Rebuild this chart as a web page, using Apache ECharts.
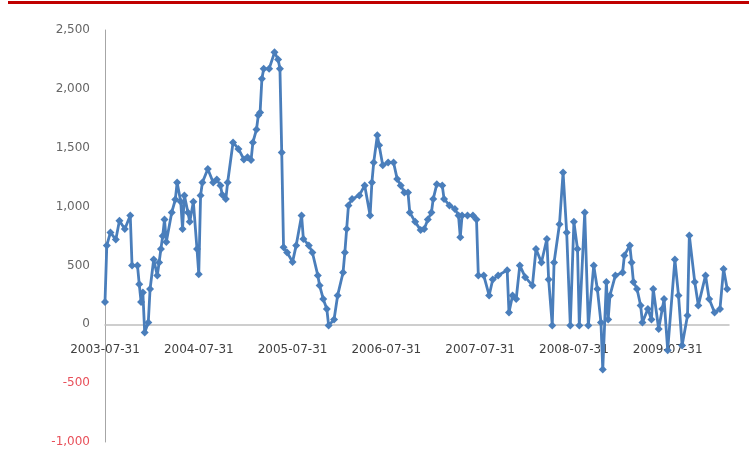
<!DOCTYPE html>
<html>
<head>
<meta charset="utf-8">
<script src="https://cdn.jsdelivr.net/npm/echarts@6/dist/echarts.min.js"></script>
<style>
  html, body { margin: 0; padding: 0; background: #fff; }
  #chart { width: 749px; height: 460px; }
</style>
</head>
<body>
<div id="chart"></div>
<script>
// weeks since 2003-07-31
const weeks = [0,1,3,6,8,11,14,15,18,19,20,21,22,24,25,27,29,30,31,32,33,34,37,39,40,42,43,44,46,47,49,51,52,53,54,57,60,62,64,65,67,68,71,74,77,79,81,82,84,85,86,87,88,91,94,96,97,98,99,101,104,106,109,110,113,115,118,119,121,123,124,127,129,132,133,134,135,137,141,144,147,148,149,151,152,154,157,160,162,164,166,168,169,172,175,177,179,181,182,184,187,188,191,194,196,197,198,201,204,206,207,210,213,215,218,223,224,226,228,230,233,237,239,242,245,246,248,249,252,254,256,258,260,262,263,266,268,271,273,275,276,278,279,280,283,287,288,291,292,293,295,297,298,301,303,304,307,309,310,312,316,318,320,323,324,327,329,333,335,338,341,343,345];
const values = [190,670,780,720,880,810,925,500,500,340,190,270,-70,15,300,550,415,525,640,750,890,700,950,1060,1205,1040,810,1095,950,870,1040,640,425,1095,1205,1320,1205,1230,1180,1100,1065,1205,1545,1490,1400,1420,1395,1545,1655,1775,1800,2085,2170,2170,2310,2250,2170,1460,655,610,530,670,925,725,670,610,415,330,215,130,-10,40,245,440,610,810,1010,1065,1095,1180,925,1205,1375,1605,1520,1350,1375,1375,1235,1180,1120,1120,950,870,800,810,890,950,1065,1190,1180,1065,1010,980,925,740,925,925,925,890,415,415,245,380,415,460,100,245,215,500,400,330,640,525,725,380,-10,525,850,1290,780,-10,870,640,-10,950,-10,500,300,15,-385,360,40,245,415,440,585,670,525,360,300,160,15,130,40,300,-40,130,215,-220,550,245,-180,75,755,360,160,415,215,100,130,470,300];
const tickLabels = ['2003-07-31','2004-07-31','2005-07-31','2006-07-31','2007-07-31','2008-07-31','2009-07-31'];
const yMin = -1000, yMax = 2500;

const seriesData = weeks.map((w, i) => [w, values[i]]);

// grid box
const gridTop = 30, gridBottom = 18;
const plotH = 460 - gridTop - gridBottom;
// lift the x axis up to y = 0
const zeroOffset = -plotH * (0 - yMin) / (yMax - yMin);

const myChart = echarts.init(document.getElementById('chart'));
myChart.setOption({
  animation: false,
  backgroundColor: '#fff',
  grid: { left: 105, right: 20, top: gridTop, bottom: gridBottom, outerBoundsMode: 'none' },
  graphic: [
    { type: 'rect', left: 8, top: 1, shape: { width: 741, height: 3 }, style: { fill: '#C00000' } }
  ],
  xAxis: {
    type: 'value',
    min: 0,
    max: 346,
    interval: 52,
    position: 'bottom',
    offset: zeroOffset,
    axisLine: { onZero: false, lineStyle: { color: '#BFBFBF', width: 1.5 } },
    axisTick: { show: false },
    splitLine: { show: false },
    axisLabel: {
      margin: 20,
      showMaxLabel: false,
      fontFamily: 'DejaVu Sans',
      fontSize: 12,
      color: '#404040',
      formatter: function (v) {
        return tickLabels[Math.round(v / 52)] || '';
      }
    }
  },
  yAxis: {
    type: 'value',
    min: yMin,
    max: yMax,
    interval: 500,
    axisLine: { show: true, onZero: false, lineStyle: { color: '#A6A6A6', width: 1 } },
    axisTick: { show: false },
    splitLine: { show: false },
    axisLabel: {
      margin: 15,
      fontFamily: 'DejaVu Sans',
      fontSize: 12,
      color: '#666',
      formatter: function (v) {
        const s = Math.abs(v).toLocaleString('en-US');
        return v < 0 ? '{neg|-' + s + '}' : s;
      },
      rich: {
        neg: { color: '#E8505A', fontFamily: 'DejaVu Sans', fontSize: 12 }
      }
    }
  },
  series: [
    {
      type: 'line',
      data: seriesData,
      symbol: 'diamond',
      symbolSize: 8,
      color: '#4A7EBB',
      lineStyle: { width: 2.8, color: '#4A7EBB' },
      itemStyle: { color: '#4A7EBB' }
    }
  ]
});
</script>
</body>
</html>
